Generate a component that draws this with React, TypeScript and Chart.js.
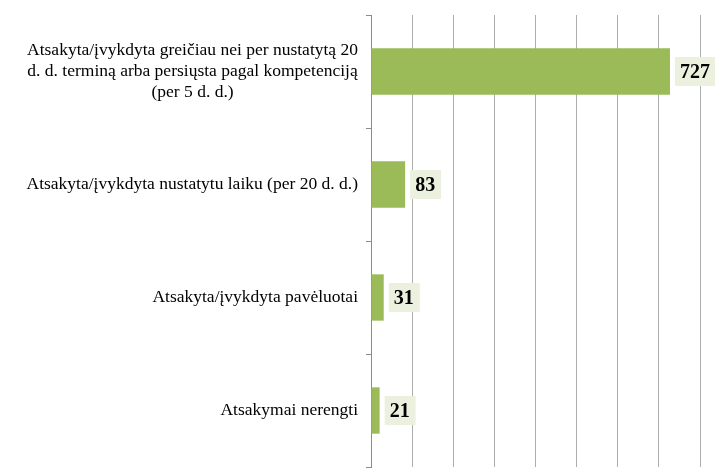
import React, { useEffect, useRef } from "react";
import { Chart, registerables } from "chart.js";

Chart.register(...registerables);

const categories: string[][] = [
  ["Atsakyta/įvykdyta greičiau nei per nustatytą 20", "d. d. terminą arba persiųsta pagal kompetenciją", "(per 5 d. d.)"],
  ["Atsakyta/įvykdyta nustatytu laiku (per 20 d. d.)"],
  ["Atsakyta/įvykdyta pavėluotai"],
  ["Atsakymai nerengti"],
];
const values: number[] = [727, 83, 31, 21];
const axisMax = 800;
const axisStep = 100;

const labelFont = "17.5px 'Liberation Serif', 'Times New Roman', serif";
const valueFont = "bold 20px 'Liberation Serif', 'Times New Roman', serif";

const labelsPlugin = {
  id: "customLabels",
  afterDatasetsDraw(chart: any) {
    const ctx = chart.ctx;
    const yScale = chart.scales.y;
    ctx.save();
    ctx.font = labelFont;
    ctx.fillStyle = "#000";
    ctx.textBaseline = "middle";
    ctx.textAlign = "center";
    const lineH = 21;
    const rightEdge = yScale.left - 8;
    categories.forEach((lines, i) => {
      const yc = yScale.getPixelForTick(i);
      const w = Math.max(...lines.map((l) => ctx.measureText(l).width));
      const xc = rightEdge - w / 2;
      const y0 = yc - ((lines.length - 1) * lineH) / 2;
      lines.forEach((l, j) => ctx.fillText(l, xc, y0 + j * lineH));
    });
    const meta = chart.getDatasetMeta(0);
    ctx.font = valueFont;
    meta.data.forEach((el: any, i: number) => {
      const txt = String(values[i]);
      const tw = ctx.measureText(txt).width;
      const bx = el.x + 5;
      const bw = tw + 11;
      const bh = 29;
      ctx.fillStyle = "#ECF1DF";
      ctx.fillRect(bx, el.y - bh / 2, bw, bh);
      ctx.fillStyle = "#000";
      ctx.textAlign = "left";
      ctx.fillText(txt, bx + 5, el.y + 1);
    });
    ctx.restore();
  },
};

export default function App() {
  const ref = useRef<HTMLCanvasElement>(null);
  useEffect(() => {
    if (!ref.current) return;
    const chart = new Chart(ref.current, {
      type: "bar",
      data: {
        labels: categories.map((c) => c.join(" ")),
        datasets: [
          {
            data: values,
            backgroundColor: "#9BBB59",
            borderWidth: 0,
            categoryPercentage: 1,
            barPercentage: 0.41,
          },
        ],
      },
      options: {
        indexAxis: "y",
        responsive: false,
        animation: false,
        layout: { padding: { left: 366, right: 15, top: 15, bottom: 6 } },
        plugins: { legend: { display: false }, tooltip: { enabled: false } },
        scales: {
          x: {
            min: 0,
            max: axisMax,
            ticks: { display: false, stepSize: axisStep },
            grid: { color: "#ADADAD", lineWidth: 1, drawTicks: false },
            border: { display: false },
          },
          y: {
            offset: true,
            ticks: { display: false },
            grid: {
              offset: true,
              drawOnChartArea: false,
              drawTicks: true,
              tickLength: 5,
              color: "#8C8C8C",
            },
            border: { display: true, color: "#8C8C8C", width: 1 },
          },
        },
      },
      plugins: [labelsPlugin],
    });
    return () => chart.destroy();
  }, []);
  return (
    <div style={{ position: "fixed", left: 0, top: 0, width: 715, height: 473, background: "#fff" }}>
      <canvas ref={ref} width={715} height={473} />
    </div>
  );
}
